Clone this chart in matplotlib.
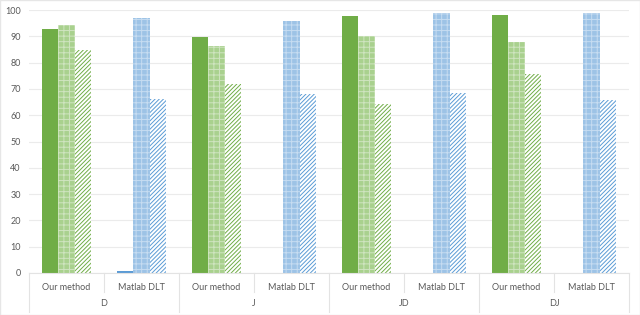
import numpy as np
import matplotlib.pyplot as plt
from matplotlib.patches import Rectangle
import matplotlib.transforms as mtransforms

plt.rcParams['font.family'] = ['Lato', 'DejaVu Sans']
plt.rcParams['hatch.linewidth'] = 0.7

methods = ['Our method', 'Matlab DLT']
groups = ['D', 'J', 'JD', 'DJ']
solid = [92.6, 0.8, 89.7, 0, 97.7, 0, 98.1, 0]
dotted = [94.3, 97.0, 86.5, 95.8, 90.3, 98.9, 87.8, 98.9]
hatched = [84.8, 66.0, 71.7, 68.0, 64.3, 68.3, 75.7, 65.8]

green, lgreen, blue, lblue = '#70AD47', '#A9D18E', '#5B9BD5', '#9DC3E6'

fig = plt.figure(figsize=(6.4, 3.15), dpi=100)
ax = fig.add_axes([29/640, 42/315, 600/640, 263/315])

x = np.arange(len(solid))
w = 0.222
for i in x:
    our = i % 2 == 0
    c1 = green if our else blue
    c2 = lgreen if our else lblue
    ax.bar(i - w, solid[i], w, color=c1, linewidth=0)
    ax.bar(i, dotted[i], w, color=c2, edgecolor='#cfe4c0' if our else '#c6dcf1',
           hatch='+++', linewidth=0)
    ax.bar(i + w, hatched[i], w, color='white', edgecolor=c1,
           hatch='////////', linewidth=0)

ax.set_xlim(-0.5, len(solid) - 0.5)
ax.set_ylim(0, 100)
ax.set_yticks(range(0, 101, 10))
ax.yaxis.grid(True, color='#EBEBEB', linewidth=0.8)
ax.set_axisbelow(True)
for s in ['top', 'right', 'left']:
    ax.spines[s].set_visible(False)
ax.spines['bottom'].set_color('#E3E3E3')
ax.tick_params(axis='y', length=0, labelsize=6.5, labelcolor='#595959', pad=6)
ax.set_xticks([])

# multi-level category axis
trans = mtransforms.blended_transform_factory(ax.transData, ax.transAxes)
px = 1 / 263
for i, m in enumerate(methods * len(groups)):
    ax.text(i, -15 * px, m, transform=trans, ha='center', va='center',
            fontsize=6.5, color='#595959')
for j, g in enumerate(groups):
    ax.text(2 * j + 0.5, -30 * px, g, transform=trans, ha='center', va='center',
            fontsize=6.5, color='#595959')
for k in range(len(solid) + 1):
    x0 = k - 0.5
    y1 = -39 * px if k % 2 == 0 else -19 * px
    ax.plot([x0, x0], [0, y1], transform=trans, color='#E3E3E3',
            linewidth=0.8, clip_on=False)

fig.patches.append(Rectangle((0, 0), 1, 1, transform=fig.transFigure,
                             fill=False, edgecolor='#E6E6E6', linewidth=1))

fig.savefig('out.png', dpi=100)
